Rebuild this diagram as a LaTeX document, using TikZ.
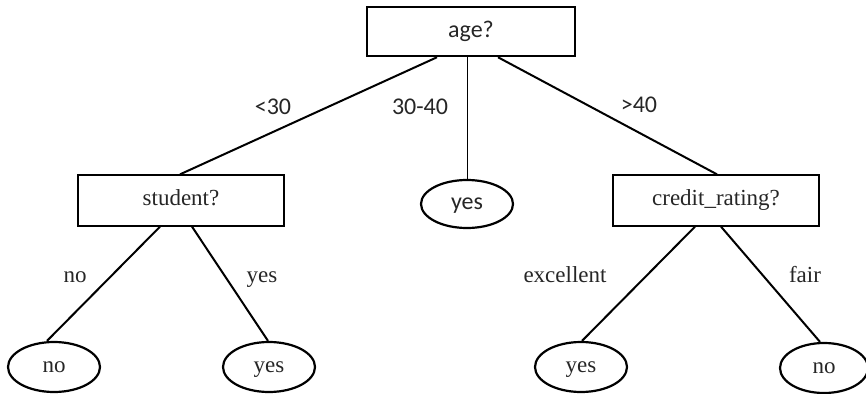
\documentclass[tikz,border=0pt]{standalone}
\usepackage{fontspec}
\setmainfont{Liberation Serif}
\newfontfamily\serifw{Liberation Serif}
\newfontfamily\sansw{Carlito}
\usetikzlibrary{shapes.geometric}
\begin{document}
\begin{tikzpicture}[x=1pt,y=-1pt,
  txt/.style={text=black!85},
  sanslbl/.style={txt,font=\sansw\fontsize{24}{26}\selectfont,inner sep=0pt,text height=17pt,text depth=5.8pt},
  seriflbl/.style={txt,font=\serifw\fontsize{23}{25}\selectfont,inner sep=0pt,text height=16pt,text depth=5.6pt},
  rootbox/.style={draw,line width=2.5pt,minimum width=208pt,minimum height=49pt,sanslbl},
  testbox/.style={draw,line width=1.3pt,minimum width=206pt,minimum height=51pt,seriflbl},
  leafell/.style={draw,ellipse,line width=2.2pt,minimum width=92pt,minimum height=50pt,inner sep=0pt,seriflbl},
  edge/.style={line width=2pt},
  thinedge/.style={line width=1pt}]
\useasboundingbox (0,0) rectangle (866,393);
\node[rootbox] (age) at (471,31.5) {age?};
\node[testbox] (student) at (181,200.5) {student?};
\node[testbox] (credit) at (716,200.5) {credit\_rating?};
\node[leafell,sanslbl,minimum width=92pt,minimum height=48pt] (yesmid) at (467,204) {yes};
\node[leafell] (no1) at (54,367) {no};
\node[leafell] (yes1) at (269,367) {yes};
\node[leafell] (yes2) at (581,367) {yes};
\node[leafell,minimum width=88pt] (no2) at (824,368) {no};
\draw[edge] ([xshift=-34pt]age.south) -- ([xshift=-1pt]student.north);
\draw[thinedge] ([xshift=-4pt]age.south) -- (yesmid.north);
\draw[edge] ([xshift=27pt]age.south) -- ([xshift=1pt]credit.north);
\draw[edge] ([xshift=-21pt]student.south) -- ([xshift=-7pt]no1.north);
\draw[edge] ([xshift=11pt]student.south) -- ([xshift=-1pt]yes1.north);
\draw[edge] ([xshift=-21pt]credit.south) -- ([xshift=1pt]yes2.north);
\draw[edge] ([xshift=5pt]credit.south) -- ([xshift=-4pt]no2.north);
\node[sanslbl] (l30) at (273,109) {<30};
\node[sanslbl] (l3040) at (420,109) {30-40};
\node[sanslbl] (l40) at (639,107) {>40};
\node[seriflbl] (lno) at (75,277) {no};
\node[seriflbl] (lyes) at (262,277) {yes};
\node[seriflbl] (lexc) at (565,277) {excellent};
\node[seriflbl] (lfair) at (805,277) {fair};
\end{tikzpicture}
\end{document}
